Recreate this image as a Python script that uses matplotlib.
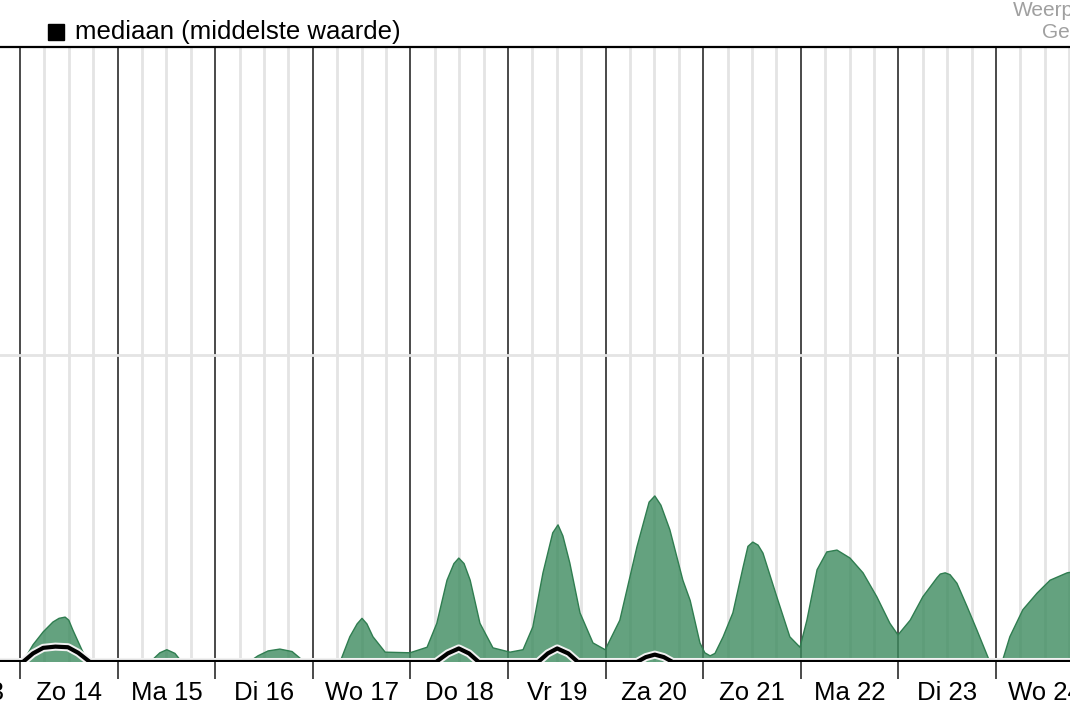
import numpy as np
import matplotlib
matplotlib.use("Agg")
import matplotlib.pyplot as plt
import matplotlib.patheffects as pe

plt.rcParams['font.family'] = ['Liberation Sans', 'DejaVu Sans']

# hours since Zo 14 00:00, precipitation (mm)
spread_h = [-5, 0.7, 3.2, 5.7, 8.1, 9.6, 11.1, 12.0, 13.0, 15.2, 16.7,
            32.0, 34.4, 36.1, 38.1, 39.8,
            56.3, 58.5, 61.0, 63.9, 66.9, 68.9, 69.6,
            78.7, 81.1, 82.9, 84.1, 85.3, 86.8, 89.8, 95.9, 100.1, 102.5,
            105.0, 106.7, 107.9, 109.2, 110.7, 113.1, 116.3, 120.5, 123.7,
            126.1, 128.6, 131.0, 132.3, 133.5, 135.2, 137.7, 140.9, 143.9,
            147.5, 151.7, 154.7, 156.1, 157.6, 159.8, 163.0, 164.8,
            167.2, 168.4, 169.7, 170.9, 172.9, 175.3, 177.8, 179.0, 180.2,
            181.5, 182.7, 186.1, 189.3, 191.8, 193.5, 196.0, 198.4, 200.9,
            204.1, 207.3, 210.7, 213.9, 215.9, 218.9, 222.0, 225.5, 226.3,
            227.5, 228.7, 230.4, 232.9, 235.3, 238.5,
            241.5, 243.4, 246.6, 250.1, 253.3, 257.5, 259.4]
spread_v = [0, 0, 0.28, 0.49, 0.65, 0.71, 0.73, 0.68, 0.52, 0.20, 0,
            0, 0.15, 0.20, 0.14, 0,
            0, 0.10, 0.18, 0.21, 0.17, 0.06, 0,
            0, 0.41, 0.62, 0.71, 0.62, 0.41, 0.16, 0.15, 0.24, 0.63,
            1.33, 1.60, 1.69, 1.60, 1.33, 0.63, 0.23, 0.16, 0.20,
            0.57, 1.45, 2.10, 2.23, 2.05, 1.61, 0.80, 0.31, 0.20,
            0.68, 1.87, 2.60, 2.70, 2.55, 2.15, 1.33, 1.00,
            0.31, 0.15, 0.10, 0.14, 0.41, 0.80, 1.54, 1.88, 1.95,
            1.90, 1.77, 1.06, 0.41, 0.24, 0.68, 1.50, 1.79, 1.82,
            1.69, 1.45, 1.06, 0.63, 0.44, 0.68, 1.06, 1.37, 1.43,
            1.45, 1.42, 1.28, 0.90, 0.52, 0,
            0, 0.41, 0.85, 1.12, 1.33, 1.45, 1.47]

median_h = [-5, 0.7, 3.2, 5.7, 8.7, 11.8, 14.3, 17.2,
            102.3, 105.2, 107.9, 110.4, 112.8,
            127.4, 129.8, 132.1, 134.8, 137.2,
            151.7, 153.9, 156.1, 158.3, 160.5, 259.4]
median_v = [0, 0, 0.14, 0.23, 0.25, 0.24, 0.15, 0,
            0, 0.14, 0.22, 0.14, 0,
            0, 0.14, 0.22, 0.14, 0,
            0, 0.08, 0.12, 0.08, 0, 0]

day_labels = ['Za 13', 'Zo 14', 'Ma 15', 'Di 16', 'Wo 17', 'Do 18', 'Vr 19',
              'Za 20', 'Zo 21', 'Ma 22', 'Di 23', 'Wo 24']
label_h = np.arange(-12, 264, 24)

fig = plt.figure(figsize=(10.7, 7.13), dpi=100)
ax = fig.add_axes([0, 51 / 713, 1, 615 / 713])

# grid: light 6-hour lines, darker day lines
for h in np.arange(-24, 264, 6):
    if h % 24 == 0:
        ax.axvline(h, color='#4a4a4a', lw=1.4, zorder=1)
    else:
        ax.axvline(h, color='#e4e4e4', lw=2.0, zorder=1)
ax.axhline(5, color='#e4e4e4', lw=2.0, zorder=1)

ax.fill_between(spread_h, 0, spread_v, color='#3d8b5f', alpha=0.8, lw=0, zorder=2)
ax.plot(spread_h, spread_v, color='#2f7d50', lw=1.0, zorder=3)

ax.plot(median_h, median_v, color='black', lw=3.0, zorder=4, solid_capstyle='butt',
        path_effects=[pe.withStroke(linewidth=5.8, foreground='#f2f2f2')])

for s in ['left', 'right', 'bottom']:
    ax.spines[s].set_visible(False)
ax.spines['top'].set_color('black')
ax.spines['top'].set_linewidth(1.6)

ax.set_yticks([])
ax.set_xticks(np.arange(-24, 264, 24))
ax.set_xticklabels([])
ax.tick_params(axis='x', which='major', length=12, width=1.4, color='#4a4a4a')

# day names as text, so the half-visible first one is drawn too
for h, lab in zip(label_h, day_labels):
    ax.text(h, -0.05, lab, transform=ax.get_xaxis_transform(), fontsize=18.5,
            ha='center', va='center', clip_on=False)

# limits last, so the ticks do not widen them
ax.set_xlim(-20 / 97.6 * 24, 1050 / 97.6 * 24)
ax.set_ylim(0, 10)

# legend and source text
fig.patches.append(plt.Rectangle((48 / 1070, 1 - 40 / 713), 16 / 1070, 16 / 713,
                                 transform=fig.transFigure, color='black'))
fig.text(75 / 1070, 1 - 32 / 713, 'mediaan (middelste waarde)', fontsize=18.5,
         va='center', ha='left')
fig.text(1013 / 1070, 1 - 10 / 713, 'Weerplaza', fontsize=15, color='#a0a0a0',
         va='center', ha='left')
fig.text(1042 / 1070, 1 - 33 / 713, 'Genk', fontsize=15, color='#a0a0a0',
         va='center', ha='left')

fig.savefig('out.png', dpi=100)
